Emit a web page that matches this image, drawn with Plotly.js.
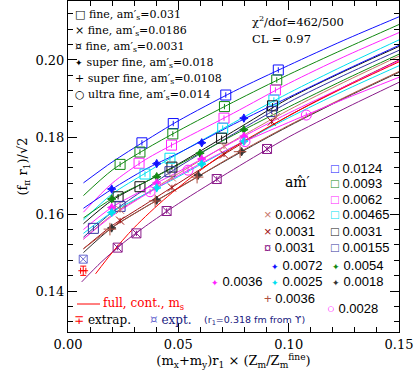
<!DOCTYPE html>
<html>
<head>
<meta charset="utf-8">
<script src="https://cdn.plot.ly/plotly-3.0.1.min.js"></script>
<style>
  body { margin: 0; background: #fff; }
  #plot { width: 415px; height: 382px; }
</style>
</head>
<body>
<div id="plot"></div>
<script>
// fit curves
const curveX = [0.007, 0.02, 0.035, 0.05, 0.075, 0.1, 0.125, 0.15];

// fine, am's=0.031 (squares)
const sq0124Curve = [0.1681, 0.1735, 0.1790, 0.1842, 0.1918, 0.1986, 0.2051, 0.2112];
const sq0124X = [0.0335, 0.0477, 0.0715, 0.0953];
const sq0124Y = [0.1785, 0.1835, 0.1909, 0.1974];

const sq0093Curve = [0.1648, 0.1714, 0.1768, 0.1816, 0.1891, 0.1962, 0.2028, 0.2092];
const sq0093X = [0.0236, 0.0326, 0.0475, 0.0709, 0.0946];
const sq0093Y = [0.1729, 0.1761, 0.1808, 0.1879, 0.1948];

const sq0062Curve = [0.1605, 0.1680, 0.1741, 0.1788, 0.1862, 0.1939, 0.2008, 0.2071];
const sq0062X = [0.0322, 0.0469, 0.0707, 0.0940];
const sq0062Y = [0.1732, 0.1779, 0.1849, 0.1922];

const sq00465Curve = [0.1585, 0.1652, 0.1706, 0.1757, 0.1837, 0.1914, 0.1985, 0.2052];
const sq00465X = [0.0349, 0.0462, 0.0701, 0.0933];
const sq00465Y = [0.1704, 0.1745, 0.1823, 0.1896];

const sq0031Curve = [0.1575, 0.1636, 0.1683, 0.1730, 0.1815, 0.1900, 0.1970, 0.2035];
const sq0031X = [0.0227, 0.0326, 0.0471, 0.0696, 0.0927];
const sq0031Y = [0.1645, 0.1671, 0.1722, 0.1797, 0.1881];

const sq00155Curve = [0.1540, 0.1605, 0.1665, 0.1722, 0.1808, 0.1890, 0.1960, 0.2025];
const sq00155X = [0.0115, 0.0236, 0.0462, 0.0923];
const sq00155Y = [0.1563, 0.1620, 0.1710, 0.1866];

// fine, am's=0.0186 (crosses)
const x0062Curve = [0.1535, 0.1598, 0.1652, 0.1705, 0.1790, 0.1870, 0.1942, 0.2010];
const x0062X = [0.0236, 0.0471, 0.0707, 0.0942];
const x0062Y = [0.1611, 0.1695, 0.1776, 0.1852];

const x0031Curve = [0.1510, 0.1570, 0.1625, 0.1680, 0.1770, 0.1855, 0.1930, 0.2000];
const x0031X = [0.0236, 0.0471, 0.0707, 0.0923];
const x0031Y = [0.1583, 0.1669, 0.1755, 0.1840];

// fine, am's=0.0031
const purpleX = [0.0062, 0.015, 0.025, 0.035, 0.05, 0.075, 0.1, 0.125, 0.15];
const purpleCurve = [0.1424, 0.1475, 0.1525, 0.1568, 0.1627, 0.1716, 0.1800, 0.1873, 0.1942];
const purplePtsX = [0.0225, 0.0310, 0.0447, 0.0674, 0.0902];
const purplePtsY = [0.1513, 0.1550, 0.1608, 0.1691, 0.1769];

// super fine, am's=0.018 (stars)
const sf0072Curve = [0.1615, 0.1665, 0.1716, 0.1758, 0.1833, 0.1903, 0.1972, 0.2038];
const sf0072X = [0.0198, 0.0402, 0.0606, 0.0797];
const sf0072Y = [0.1665, 0.1731, 0.1785, 0.1849];

const sf0054Curve = [0.1590, 0.1640, 0.1683, 0.1728, 0.1805, 0.1878, 0.1948, 0.2015];
const sf0054X = [0.0198, 0.0402, 0.0598, 0.0797];
const sf0054Y = [0.1639, 0.1697, 0.1758, 0.1819];

const sf0036Curve = [0.1560, 0.1618, 0.1665, 0.1710, 0.1788, 0.1862, 0.1930, 0.1998];
const sf0036X = [0.0198, 0.0402, 0.0606, 0.0797];
const sf0036Y = [0.1617, 0.1681, 0.1743, 0.1802];

const sf0025Curve = [0.1550, 0.1605, 0.1652, 0.1697, 0.1775, 0.1850, 0.1920, 0.1985];
const sf0025X = [0.0198, 0.0402, 0.0606, 0.0797];
const sf0025Y = [0.1604, 0.1668, 0.1730, 0.1789];

const sf0018Curve = [0.1500, 0.1565, 0.1618, 0.1668, 0.1750, 0.1828, 0.1900, 0.1968];
const sf0018X = [0.0198, 0.0402, 0.0590, 0.0787];
const sf0018Y = [0.1564, 0.1636, 0.1701, 0.1762];

// super fine, am's=0.0108 (plus)
const sp0036Curve = [0.1510, 0.1565, 0.1618, 0.1667, 0.1752, 0.1830, 0.1902, 0.1970];
const sp0036X = [0.0190, 0.0395, 0.0585, 0.0780];
const sp0036Y = [0.1561, 0.1634, 0.1696, 0.1762];

// ultra fine, am's=0.014 (circles)
const uf0028Curve = [0.1535, 0.1595, 0.1650, 0.1700, 0.1775, 0.1838, 0.1898, 0.1955];
const uf0028X = [0.0372, 0.0544, 0.0802, 0.1080];
const uf0028Y = [0.1658, 0.1714, 0.1788, 0.1857];

// full QCD, continuum, physical m_s
const contX = [0.0125, 0.02, 0.03, 0.045, 0.07, 0.1, 0.125, 0.15];
const contY = [0.1445, 0.1500, 0.1565, 0.1645, 0.1755, 0.1855, 0.1928, 0.1995];

// extrapolated and experimental points
const extrapX = [0.0069];
const extrapY = [0.1453];
const exptX = [0.0069];
const exptY = [0.1483];

const traces = [];

function curve(xs, ys, color) {
    traces.push({
        x: xs, y: ys, mode: 'lines', type: 'scatter',
        line: { color: color, width: 1, shape: 'spline', smoothing: 0.8 },
        hoverinfo: 'skip'
    });
}

function pts(xs, ys, color, symbol, size) {
    traces.push({
        x: xs, y: ys, mode: 'markers', type: 'scatter',
        marker: { color: color, symbol: symbol, size: size || 9, line: { color: color, width: 1 } },
        error_y: { type: 'constant', value: 0.0007, color: color, thickness: 1, width: 0 }
    });
}

// 1) curves
curve(curveX, sq0124Curve, '#1010ff');
curve(curveX, sq0093Curve, '#118811');
curve(curveX, sq0062Curve, '#ff22ff');
curve(curveX, sq00465Curve, '#00e0f0');
curve(curveX, sq0031Curve, '#111111');
curve(curveX, sq00155Curve, '#3535a0');
curve(curveX, x0062Curve, '#c8786a');
curve(curveX, x0031Curve, '#a01010');
curve(purpleX, purpleCurve, '#8a1a8a');
curve(curveX, sf0072Curve, '#1010ff');
curve(curveX, sf0054Curve, '#118811');
curve(curveX, sf0036Curve, '#ff22ff');
curve(curveX, sf0025Curve, '#00e0f0');
curve(curveX, sf0018Curve, '#333333');
curve(curveX, sp0036Curve, '#b05040');
curve(curveX, uf0028Curve, '#ff22ff');
curve(contX, contY, '#ff0000');

// 2) data points
pts(sq0124X, sq0124Y, '#1010ff', 'square-open', 10);
pts(sq0093X, sq0093Y, '#118811', 'square-open', 10);
pts(sq0062X, sq0062Y, '#ff22ff', 'square-open', 10);
pts(sq00465X, sq00465Y, '#00e0f0', 'square-open', 10);
pts(sq0031X, sq0031Y, '#111111', 'square-open', 10);
pts(sq00155X, sq00155Y, '#3535a0', 'square-open', 10);
pts(x0062X, x0062Y, '#c8786a', 'x-thin-open', 8);
pts(x0031X, x0031Y, '#a01010', 'x-thin-open', 8);
pts(purplePtsX, purplePtsY, '#8a1a8a', 'square-x-open', 9);
pts(sf0072X, sf0072Y, '#1010ff', 'star-diamond', 6);
pts(sf0054X, sf0054Y, '#118811', 'star-diamond', 6);
pts(sf0036X, sf0036Y, '#ff22ff', 'star-diamond', 6);
pts(sf0025X, sf0025Y, '#00e0f0', 'star-diamond', 6);
pts(sf0018X, sf0018Y, '#333333', 'star-diamond', 6);
pts(sp0036X, sp0036Y, '#b05040', 'cross-thin-open', 9);
pts(uf0028X, uf0028Y, '#ff22ff', 'circle-open', 10);

traces.push({
    x: extrapX, y: extrapY, mode: 'markers', type: 'scatter',
    marker: { color: '#ff0000', symbol: 'line-ew-open', size: 7, line: { color: '#ff0000', width: 1 } },
    error_y: { type: 'constant', value: 0.0012, color: '#ff0000', thickness: 1, width: 3 },
    error_x: { type: 'constant', value: 0.0012, color: '#ff0000', thickness: 1, width: 3 }
});
traces.push({
    x: exptX, y: exptY, mode: 'markers', type: 'scatter',
    marker: { color: '#6a6ad0', symbol: 'square-x-open', size: 8, line: { color: '#6a6ad0', width: 1 } }
});

// 3) text, written as annotations (pixel positions inside the 415x382 page)
const L = 68, T = 1, W = 331, H = 331;
function at(px, py, text, font, anchor) {
    return {
        xref: 'paper', yref: 'paper',
        x: (px - L) / W, y: (T + H - py) / H,
        text: text, showarrow: false,
        xanchor: anchor || 'left', yanchor: 'middle',
        font: font
    };
}
const serif = { family: 'DejaVu Serif', size: 11, color: '#000' };
const sans = { family: 'Liberation Sans', size: 13, color: '#000' };
const c = (col, s) => `<span style="color:${col}">${s}</span>`;
const small = (col, s) => `<span style="color:${col};font-size:9px">${s}</span>`;

const annotations = [
    at(73, 15, '□ fine, am′<sub>s</sub>=0.031', serif),
    at(73, 31, '× fine, am′<sub>s</sub>=0.0186', serif),
    at(73, 47, '¤ fine, am′<sub>s</sub>=0.0031', serif),
    at(73, 63, small('#000', '✦') + ' super fine, am′<sub>s</sub>=0.018', serif),
    at(73, 79, '+ super fine, am′<sub>s</sub>=0.0108', serif),
    at(73, 95, '○ ultra fine, am′<sub>s</sub>=0.014', serif),
    at(250, 21, 'χ<sup>2</sup>/dof=462/500', { family: 'DejaVu Serif', size: 11.5, color: '#000' }),
    at(250, 39, 'CL = 0.97', { family: 'DejaVu Serif', size: 11.5, color: '#000' }),
    at(283, 182, 'am̂′', { family: 'DejaVu Serif', size: 14, color: '#000' }),

    at(329, 168, c('#1010ff', '□') + ' 0.0124', sans),
    at(329, 184, c('#118811', '□') + ' 0.0093', sans),
    at(329, 199, c('#ff22ff', '□') + ' 0.0062', sans),
    at(329, 215, c('#00e0f0', '□') + ' 0.00465', sans),
    at(329, 231, c('#111111', '□') + ' 0.0031', sans),
    at(329, 247, c('#3535a0', '□') + ' 0.00155', sans),
    at(262, 215, c('#c8786a', '×') + ' 0.0062', sans),
    at(262, 231, c('#a01010', '×') + ' 0.0031', sans),
    at(262, 247, c('#8a1a8a', '¤') + ' 0.0031', sans),
    at(269, 265, small('#1010ff', '✦') + ' 0.0072', sans),
    at(330, 265, small('#118811', '✦') + ' 0.0054', sans),
    at(209, 281, small('#ff22ff', '✦') + ' 0.0036', sans),
    at(269, 281, small('#00e0f0', '✦') + ' 0.0025', sans),
    at(330, 281, small('#333333', '✦') + ' 0.0018', sans),
    at(262, 298, c('#b05040', '+') + ' 0.0036', sans),
    at(325, 308, c('#ff22ff', '○') + ' 0.0028', sans),

    at(101, 304, 'full, cont., m<sub>s</sub>', { family: 'DejaVu Serif', size: 12, color: '#ff0000' }),
    at(72, 320, c('#ff0000', '∓') + ' extrap.', { family: 'DejaVu Serif', size: 12, color: '#000' }),
    at(148, 320, c('#6a6ad0', '¤') + ' expt.', { family: 'DejaVu Serif', size: 12, color: '#202080' }),
    at(202, 320, '(r<sub>1</sub>=0.318 fm from ϒ)', { family: 'DejaVu Sans', size: 9.5, color: '#202080' })
];

const layout = {
    width: 415, height: 382,
    margin: { l: 68, r: 16, t: 1, b: 50 },
    paper_bgcolor: '#fff', plot_bgcolor: '#fff',
    showlegend: false,
    font: { family: 'DejaVu Serif', color: '#000' },
    xaxis: {
        range: [0, 0.15], dtick: 0.05, tick0: 0, tickformat: '.2f',
        ticks: 'inside', ticklen: 9, tickcolor: '#000', mirror: 'allticks',
        showline: true, linecolor: '#000', linewidth: 1,
        showgrid: false, zeroline: false,
        minor: { dtick: 0.01, ticks: 'inside', ticklen: 5, tickcolor: '#000' },
        tickfont: { family: 'DejaVu Serif', size: 13 },
        title: {
            text: '(m<sub>x</sub>+m<sub>y</sub>)r<sub>1</sub> × (Z<sub>m</sub>/Z<sub>m</sub><sup>fine</sup>)',
            font: { family: 'DejaVu Serif', size: 13 }, standoff: 3
        }
    },
    yaxis: {
        range: [0.1294, 0.2153], dtick: 0.02, tick0: 0.14, tickformat: '.2f',
        ticks: 'inside', ticklen: 9, tickcolor: '#000', mirror: 'allticks',
        showline: true, linecolor: '#000', linewidth: 1,
        showgrid: false, zeroline: false,
        minor: { dtick: 0.004, ticks: 'inside', ticklen: 5, tickcolor: '#000' },
        tickfont: { family: 'DejaVu Serif', size: 13 },
        title: {
            text: '(f<sub>π</sub> r<sub>1</sub>)/√2',
            font: { family: 'DejaVu Serif', size: 13 }, standoff: 4
        }
    },
    shapes: [
        { type: 'line', xref: 'paper', yref: 'paper',
          x0: (77 - L) / W, x1: (100 - L) / W, y0: (T + H - 304) / H, y1: (T + H - 304) / H,
          line: { color: '#ff0000', width: 1 } }
    ],
    annotations: annotations
};

Plotly.newPlot('plot', traces, layout, { displayModeBar: false, staticPlot: true });
</script>
</body>
</html>
